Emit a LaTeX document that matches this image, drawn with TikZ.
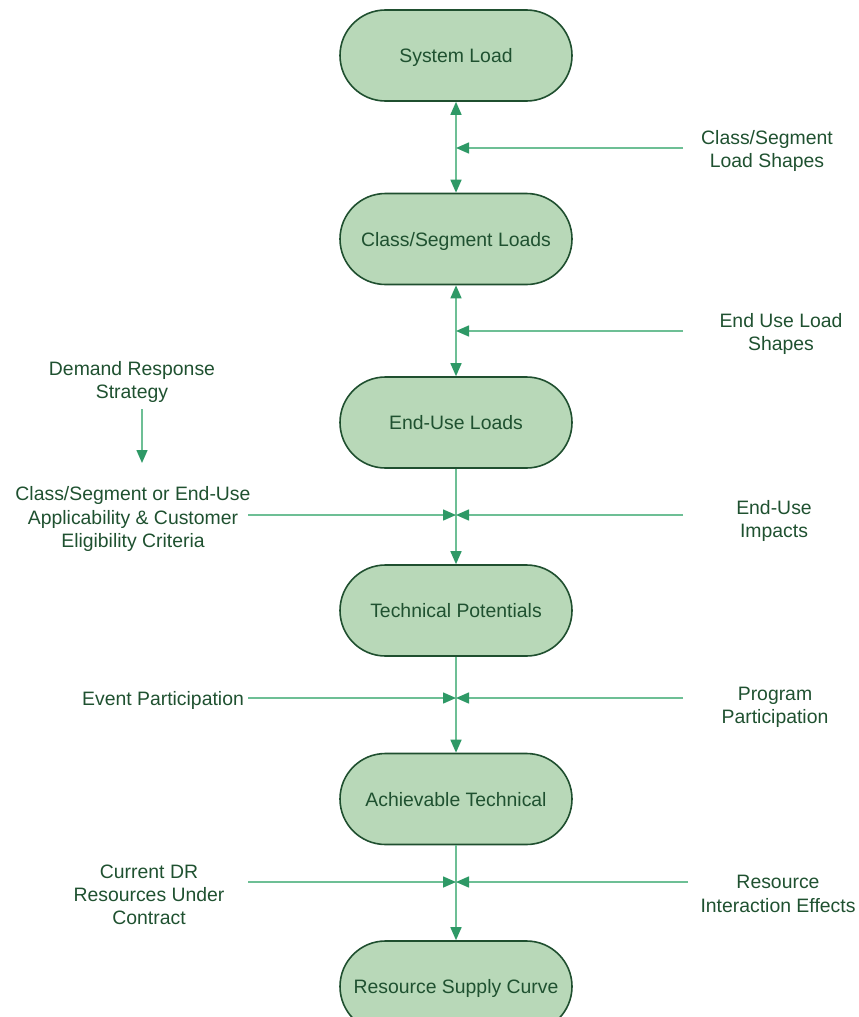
\documentclass[tikz,border=0pt]{standalone}
\usepackage{fontspec}
\setmainfont{Liberation Sans}
\usetikzlibrary{shapes.misc,arrows.meta}
\definecolor{boxfill}{HTML}{B8D8B8}
\definecolor{boxdraw}{HTML}{1F4F2F}
\definecolor{txt}{HTML}{1F5130}
\definecolor{linegreen}{HTML}{6DBF95}
\definecolor{tipgreen}{HTML}{2E9966}
\tikzset{
  stadium/.style={rounded rectangle, draw=boxdraw, fill=boxfill, line width=1.6pt,
    minimum width=232pt, minimum height=91pt, inner sep=0pt, text=txt,
    text height=14pt, text depth=0pt,
    font=\fontsize{19.4}{23.3}\selectfont},
  lbl/.style={align=center, inner sep=0pt, text=txt, font=\fontsize{19.4}{23.3}\selectfont},
  conn/.style={draw=linegreen, line width=1.5pt},
}
\begin{document}
\begin{tikzpicture}[x=1pt,y=-1pt]
\useasboundingbox (0,0) rectangle (859,1017);
% boxes
\node[stadium] (b1) at (456,55.5) {System Load};
\node[stadium] (b2) at (456,239) {Class/Segment Loads};
\node[stadium] (b3) at (456,422.5) {End-Use Loads};
\node[stadium] (b4) at (456,610.5) {Technical Potentials};
\node[stadium] (b5) at (456,799) {Achievable Technical};
\node[stadium] (b6) at (456,986.5) {Resource Supply Curve};
% labels
\node[lbl] (l1) at (767,151) {Class/Segment\\Load Shapes};
\node[lbl] (l2) at (781,334) {End Use Load\\Shapes};
\node[lbl] (l3) at (132,382) {Demand Response\\Strategy};
\node[lbl] (l4) at (133,519) {Class/Segment or End-Use\\Applicability \& Customer\\Eligibility Criteria};
\node[lbl] (l5) at (774,521) {End-Use\\Impacts};
\node[lbl] (l6) at (163,700) {Event Participation};
\node[lbl] (l7) at (775,707) {Program\\Participation};
\node[lbl] (l8) at (149,895) {Current DR\\Resources Under\\Contract};
\node[lbl] (l9) at (778,894) {Resource\\Interaction Effects};
% coordinates
\coordinate (j1) at (456,148);
\coordinate (j2) at (456,331);
\coordinate (j3) at (456,515);
\coordinate (j4) at (456,698);
\coordinate (j5) at (456,882);
\coordinate (r1) at (683,148);
\coordinate (r2) at (683,331);
\coordinate (r3) at (683,515);
\coordinate (r4) at (683,698);
\coordinate (r5) at (688,882);
\coordinate (s3) at (248,515);
\coordinate (s4) at (248,698);
\coordinate (s5) at (248,882);
\coordinate (d1) at (142,409);
\coordinate (d2) at (142,463);
% vertical connectors
\draw[conn,{Triangle[length=13pt,width=11pt,color=tipgreen]}-{Triangle[length=13pt,width=11pt,color=tipgreen]}] (b1.south) -- (b2.north);
\draw[conn,{Triangle[length=13pt,width=11pt,color=tipgreen]}-{Triangle[length=13pt,width=11pt,color=tipgreen]}] (b2.south) -- (b3.north);
\draw[conn,-{Triangle[length=13pt,width=11pt,color=tipgreen]}] (b3.south) -- (b4.north);
\draw[conn,-{Triangle[length=13pt,width=11pt,color=tipgreen]}] (b4.south) -- (b5.north);
\draw[conn,-{Triangle[length=13pt,width=11pt,color=tipgreen]}] (b5.south) -- (b6.north);
% horizontal connectors
\draw[conn,-{Triangle[length=13pt,width=11pt,color=tipgreen]}] (r1) -- (j1);
\draw[conn,-{Triangle[length=13pt,width=11pt,color=tipgreen]}] (r2) -- (j2);
\draw[conn,-{Triangle[length=13pt,width=11pt,color=tipgreen]}] (r3) -- (j3);
\draw[conn,-{Triangle[length=13pt,width=11pt,color=tipgreen]}] (r4) -- (j4);
\draw[conn,-{Triangle[length=13pt,width=11pt,color=tipgreen]}] (r5) -- (j5);
\draw[conn,-{Triangle[length=13pt,width=11pt,color=tipgreen]}] (s3) -- (j3);
\draw[conn,-{Triangle[length=13pt,width=11pt,color=tipgreen]}] (s4) -- (j4);
\draw[conn,-{Triangle[length=13pt,width=11pt,color=tipgreen]}] (s5) -- (j5);
\draw[conn,-{Triangle[length=13pt,width=11pt,color=tipgreen]}] (d1) -- (d2);
\end{tikzpicture}
\end{document}
